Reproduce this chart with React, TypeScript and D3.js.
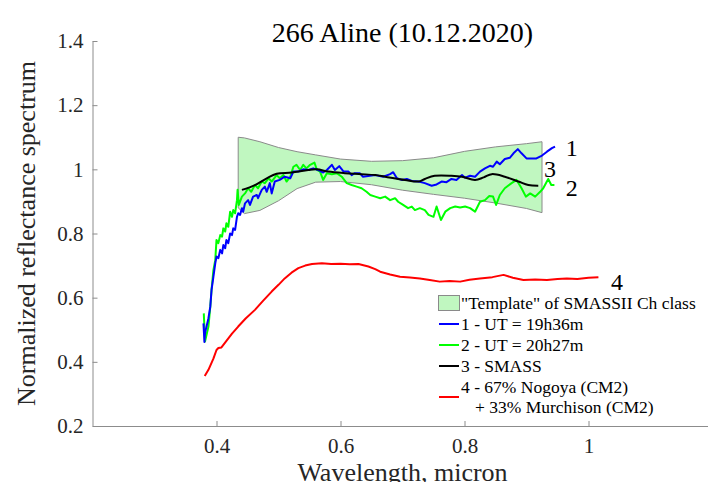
import React, { useEffect, useRef } from "react";
import * as d3 from "d3";

// axis ticks
const xTicks = [0.4, 0.6, 0.8, 1];
const yTicks = [0.2, 0.4, 0.6, 0.8, 1, 1.2, 1.4];

// "Template" of SMASSII Ch class: [wavelength, lower, upper]
const templateBand: [number, number, number][] = [
  [0.435, 0.88, 1.1], [0.445, 0.862, 1.098], [0.47, 0.872, 1.086], [0.5, 0.902, 1.068],
  [0.53, 0.94, 1.055], [0.56, 0.96, 1.045], [0.6, 0.962, 1.032], [0.65, 0.952, 1.025],
  [0.7, 0.935, 1.027], [0.75, 0.922, 1.036], [0.8, 0.91, 1.056], [0.85, 0.895, 1.07],
  [0.9, 0.878, 1.08], [0.925, 0.865, 1.086],
];

// 1 - UT = 19h36m
const spectrum1: [number, number][] = [
  [0.379, 0.52], [0.3805, 0.462], [0.3815, 0.49], [0.387, 0.536], [0.39, 0.572], [0.392, 0.624],
  [0.395, 0.665], [0.398, 0.707], [0.4, 0.728], [0.403, 0.723], [0.406, 0.749], [0.409, 0.738],
  [0.411, 0.764], [0.414, 0.754], [0.416, 0.78], [0.419, 0.77], [0.422, 0.8], [0.425, 0.795],
  [0.427, 0.816], [0.43, 0.811], [0.433, 0.852], [0.435, 0.863], [0.438, 0.858], [0.441, 0.879],
  [0.443, 0.868], [0.446, 0.894], [0.451, 0.904], [0.454, 0.889], [0.459, 0.915], [0.465, 0.92],
  [0.467, 0.91], [0.473, 0.936], [0.478, 0.946], [0.481, 0.93], [0.486, 0.957], [0.489, 0.925],
  [0.494, 0.962], [0.502, 0.967], [0.51, 0.977], [0.519, 0.972], [0.524, 0.993], [0.532, 0.993],
  [0.54, 1.0], [0.548, 0.998], [0.556, 1.003], [0.564, 0.998], [0.572, 0.99], [0.578, 0.998],
  [0.586, 1.014], [0.591, 0.998], [0.598, 1.01], [0.605, 0.993], [0.613, 0.993], [0.618, 0.982],
  [0.623, 0.988], [0.631, 0.988], [0.636, 0.977], [0.656, 0.982], [0.669, 0.977], [0.68, 0.985],
  [0.685, 0.991], [0.691, 0.972], [0.699, 0.967], [0.707, 0.97], [0.715, 0.964], [0.726, 0.962],
  [0.736, 0.957], [0.747, 0.949], [0.755, 0.953], [0.763, 0.962], [0.771, 0.96], [0.779, 0.97],
  [0.787, 0.967], [0.796, 0.982], [0.801, 0.974], [0.809, 0.98], [0.817, 0.977], [0.825, 0.993],
  [0.833, 1.003], [0.841, 1.011], [0.846, 1.008], [0.852, 1.024], [0.857, 1.016], [0.865, 1.032],
  [0.873, 1.036], [0.879, 1.05], [0.886, 1.063], [0.892, 1.05], [0.9, 1.034], [0.908, 1.034],
  [0.916, 1.034], [0.925, 1.043], [0.933, 1.055], [0.941, 1.066], [0.946, 1.071],
];

// 2 - UT = 20h27m
const spectrum2: [number, number][] = [
  [0.3795, 0.551], [0.3815, 0.463], [0.387, 0.51], [0.39, 0.572], [0.392, 0.624], [0.395, 0.686],
  [0.398, 0.717], [0.4, 0.78], [0.403, 0.77], [0.406, 0.795], [0.409, 0.79], [0.411, 0.816],
  [0.414, 0.806], [0.416, 0.832], [0.419, 0.821], [0.422, 0.868], [0.425, 0.852], [0.427, 0.873],
  [0.43, 0.863], [0.433, 0.904], [0.434, 0.936], [0.436, 0.889], [0.441, 0.915], [0.446, 0.925],
  [0.451, 0.941], [0.456, 0.93], [0.462, 0.951], [0.467, 0.941], [0.473, 0.962], [0.478, 0.957],
  [0.484, 0.972], [0.489, 0.962], [0.497, 0.982], [0.502, 0.972], [0.508, 0.982], [0.513, 0.962],
  [0.519, 0.977], [0.524, 1.008], [0.529, 1.014], [0.535, 0.998], [0.54, 1.014], [0.545, 1.003],
  [0.551, 1.014], [0.558, 1.021], [0.562, 0.998], [0.567, 0.993], [0.572, 0.967], [0.578, 0.988],
  [0.586, 0.985], [0.594, 0.988], [0.602, 0.977], [0.61, 0.957], [0.618, 0.951], [0.626, 0.946],
  [0.634, 0.941], [0.642, 0.93], [0.648, 0.92], [0.656, 0.915], [0.664, 0.91], [0.672, 0.915],
  [0.68, 0.904], [0.688, 0.91], [0.693, 0.899], [0.701, 0.889], [0.709, 0.879], [0.715, 0.884],
  [0.72, 0.873], [0.728, 0.879], [0.736, 0.873], [0.742, 0.858], [0.75, 0.852], [0.755, 0.884],
  [0.762, 0.842], [0.769, 0.868], [0.777, 0.879], [0.785, 0.884], [0.793, 0.881], [0.801, 0.884],
  [0.809, 0.879], [0.817, 0.868], [0.825, 0.899], [0.833, 0.904], [0.84, 0.917], [0.846, 0.915],
  [0.851, 0.889], [0.857, 0.92], [0.865, 0.941], [0.876, 0.957], [0.884, 0.967], [0.892, 0.941],
  [0.899, 0.915], [0.906, 0.925], [0.914, 0.915], [0.922, 0.93], [0.927, 0.941], [0.935, 0.97],
  [0.94, 0.951], [0.945, 0.951],
];

// 3 - SMASS
const smass: [number, number][] = [
  [0.441, 0.936], [0.462, 0.951], [0.481, 0.972], [0.497, 0.986], [0.521, 0.99], [0.548, 0.998],
  [0.562, 1.0], [0.58, 0.993], [0.607, 0.988], [0.634, 0.985], [0.656, 0.982], [0.672, 0.977],
  [0.704, 0.967], [0.726, 0.962], [0.736, 0.97], [0.752, 0.98], [0.779, 0.98], [0.796, 0.977],
  [0.817, 0.967], [0.831, 0.975], [0.844, 0.985], [0.865, 0.977], [0.887, 0.962], [0.903, 0.951],
  [0.919, 0.949],
];

// 4 - 67% Nogoya (CM2) + 33% Murchison (CM2)
const meteorites: [number, number][] = [
  [0.381, 0.356], [0.387, 0.375], [0.395, 0.41], [0.4, 0.437], [0.403, 0.443], [0.408, 0.445],
  [0.416, 0.465], [0.425, 0.488], [0.435, 0.51], [0.447, 0.535], [0.462, 0.562], [0.475, 0.59],
  [0.489, 0.619], [0.5, 0.64], [0.51, 0.66], [0.521, 0.678], [0.532, 0.692], [0.543, 0.7],
  [0.554, 0.705], [0.57, 0.707], [0.585, 0.705], [0.6, 0.706], [0.615, 0.704], [0.629, 0.705],
  [0.645, 0.697], [0.656, 0.689], [0.664, 0.681], [0.68, 0.672], [0.696, 0.665], [0.712, 0.663],
  [0.728, 0.66], [0.744, 0.655], [0.76, 0.65], [0.776, 0.652], [0.793, 0.65], [0.808, 0.656],
  [0.825, 0.66], [0.845, 0.664], [0.863, 0.671], [0.878, 0.662], [0.895, 0.655], [0.914, 0.657],
  [0.933, 0.655], [0.95, 0.658], [0.965, 0.66], [0.982, 0.658], [1.0, 0.662], [1.016, 0.664],
];

// curve numbers written next to the line ends
const curveLabels = ["1", "2", "3", "4"];
const curveLabelAt: [number, number][] = [[0.973, 1.067], [0.973, 0.942], [0.938, 1.001], [1.046, 0.649]];

const legendLabels = [
  '"Template" of SMASSII Ch class',
  "1 - UT = 19h36m",
  "2 - UT = 20h27m",
  "3 - SMASS",
  "4 - 67% Nogoya (CM2)",
];
const legendExtra = "+ 33% Murchison (CM2)";

const FONT = "'Liberation Serif', 'Times New Roman', serif";
const BAND_FILL = "#c0f7c0";

function App() {
  const svgRef = useRef<SVGSVGElement>(null);
  const width = 708,
    height = 482;
  const margin = { left: 92.5, right: -4.5, top: 41, bottom: 56 };

  useEffect(() => {
    const svg = d3.select(svgRef.current);
    svg.selectAll("*").remove();

    const x = d3.scaleLinear().domain([0.2, 1.2]).range([margin.left, width - margin.right]);
    const y = d3.scaleLinear().domain([0.2, 1.4]).range([height - margin.bottom, margin.top]);

    // template band
    const area = d3
      .area<[number, number, number]>()
      .x((d) => x(d[0]))
      .y0((d) => y(d[1]))
      .y1((d) => y(d[2]));
    svg
      .append("path")
      .datum(templateBand)
      .attr("d", area)
      .attr("fill", BAND_FILL)
      .attr("stroke", "#8a8a8a")
      .attr("stroke-width", 1);

    const line = d3
      .line<[number, number]>()
      .x((d) => x(d[0]))
      .y((d) => y(d[1]));

    const series: { data: [number, number][]; color: string; smooth?: boolean }[] = [
      { data: meteorites, color: "#ff0000" },
      { data: spectrum2, color: "#00ff00" },
      { data: spectrum1, color: "#0000ff" },
      { data: smass, color: "#000000", smooth: true },
    ];
    series.forEach((s) => {
      svg
        .append("path")
        .datum(s.data)
        .attr("d", s.smooth ? line.curve(d3.curveCatmullRom)(s.data) : line.curve(d3.curveLinear)(s.data))
        .attr("fill", "none")
        .attr("stroke", s.color)
        .attr("stroke-width", 2)
        .attr("stroke-linejoin", "round");
    });

    // axes
    const yAxis = d3
      .axisLeft(y)
      .tickValues(yTicks)
      .tickSizeInner(-5)
      .tickSizeOuter(0)
      .tickPadding(9)
      .tickFormat(d3.format("~g"));
    const xAxis = d3
      .axisBottom(x)
      .tickValues(xTicks)
      .tickSizeInner(-5)
      .tickSizeOuter(0)
      .tickPadding(12)
      .tickFormat(d3.format("~g"));

    const gy = svg.append("g").attr("transform", `translate(${margin.left},0)`).call(yAxis);
    const gx = svg.append("g").attr("transform", `translate(0,${height - margin.bottom})`).call(xAxis);
    [gx, gy].forEach((g) => {
      g.selectAll("path, line").attr("stroke", "#8c8c8c");
      g.selectAll("text")
        .attr("fill", "#262626")
        .style("font-family", FONT)
        .style("font-size", "21px");
    });

    // curve numbers
    svg
      .selectAll(".curve-label")
      .data(curveLabels)
      .join("text")
      .attr("x", (d, i) => x(curveLabelAt[i][0]))
      .attr("y", (d, i) => y(curveLabelAt[i][1]))
      .attr("text-anchor", "middle")
      .attr("dominant-baseline", "central")
      .style("font-family", FONT)
      .style("font-size", "24px")
      .attr("fill", "#000")
      .text((d) => d);

    // legend
    const legend = svg.append("g").attr("transform", "translate(438,303)");
    const rowH = 21;
    const legendColors = [null, "#0000ff", "#00ff00", "#000000", "#ff0000"];
    legendLabels.forEach((label, i) => {
      const c = legendColors[i];
      if (c === null) {
        legend
          .append("rect")
          .attr("x", 0.5)
          .attr("y", -7.5)
          .attr("width", 21)
          .attr("height", 15)
          .attr("fill", BAND_FILL)
          .attr("stroke", "#8a8a8a");
      } else {
        const ly = i === 4 ? i * rowH + 10 : i * rowH;
        legend
          .append("line")
          .attr("x1", 1)
          .attr("x2", 21)
          .attr("y1", ly)
          .attr("y2", ly)
          .attr("stroke", c)
          .attr("stroke-width", 2);
      }
      legend
        .append("text")
        .attr("x", 23)
        .attr("y", i * rowH)
        .attr("dominant-baseline", "central")
        .style("font-family", FONT)
        .style("font-size", "17.5px")
        .attr("fill", "#000")
        .text(label);
    });
    legend
      .append("text")
      .attr("x", 37)
      .attr("y", 5 * rowH - 1)
      .attr("dominant-baseline", "central")
      .style("font-family", FONT)
      .style("font-size", "17.5px")
      .attr("fill", "#000")
      .text(legendExtra);

    // title and axis labels
    svg
      .append("text")
      .attr("x", (margin.left + width - margin.right) / 2)
      .attr("y", 42)
      .attr("text-anchor", "middle")
      .style("font-family", FONT)
      .style("font-size", "28px")
      .attr("fill", "#000")
      .text("266 Aline (10.12.2020)");
    svg
      .append("text")
      .attr("x", (margin.left + width - margin.right) / 2)
      .attr("y", 481)
      .attr("text-anchor", "middle")
      .style("font-family", FONT)
      .style("font-size", "26px")
      .attr("fill", "#262626")
      .text("Wavelength, micron");
    svg
      .append("text")
      .attr("transform", `translate(26,${(margin.top + height - margin.bottom) / 2}) rotate(-90)`)
      .attr("text-anchor", "middle")
      .attr("dominant-baseline", "central")
      .style("font-family", FONT)
      .style("font-size", "26px")
      .attr("fill", "#262626")
      .text("Normalized reflectance spectrum");
  }, []);

  return (
    <svg
      ref={svgRef}
      width={width}
      height={height}
      style={{ position: "absolute", left: 0, top: 0, background: "#fff" }}
    ></svg>
  );
}

export default App;
